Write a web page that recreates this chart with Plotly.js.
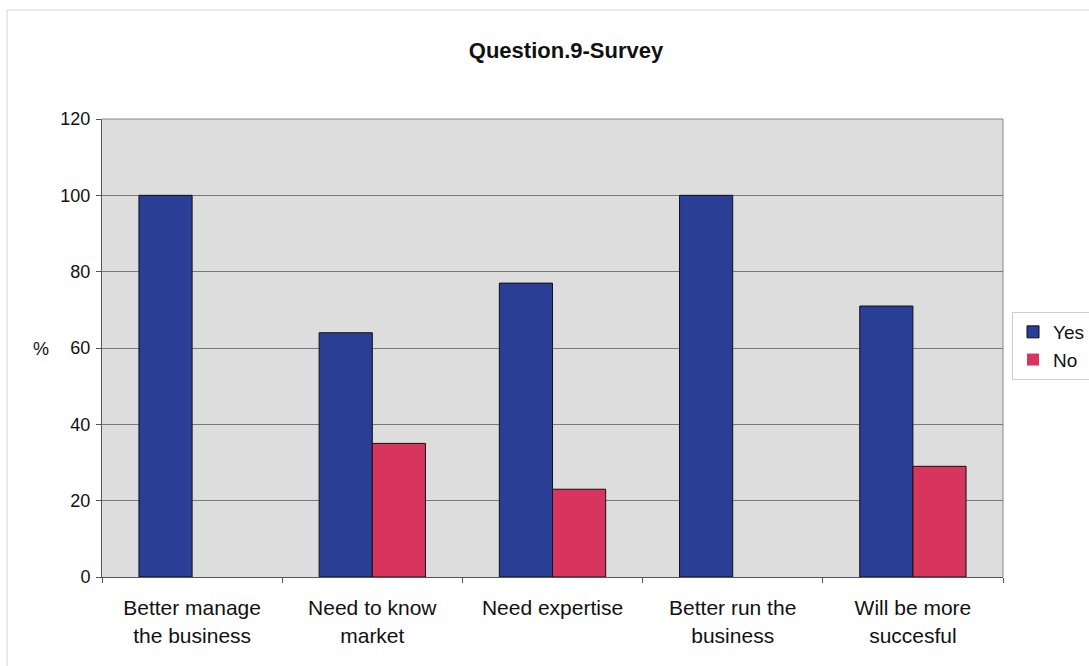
<!DOCTYPE html>
<html>
<head>
<meta charset="utf-8">
<script src="https://cdn.plot.ly/plotly-3.0.1.min.js"></script>
<style>
  html, body { margin: 0; padding: 0; background: #ffffff; }
  #chart { width: 1089px; height: 666px; }
</style>
</head>
<body>
<div id="chart"></div>
<script>
const categories = [
  "Better manage<br>the business",
  "Need to know<br>market",
  "Need expertise",
  "Better run the<br>business",
  "Will be more<br>succesful"
];
const yesValues = [100, 64, 77, 100, 71];
const noValues = [0, 35, 23, 0, 29];
const seriesNames = ["Yes", "No"];
const yTicks = [0, 20, 40, 60, 80, 100, 120];

const W = 1089, H = 666;
const margin = { l: 102, r: 86, t: 119, b: 89, autoexpand: false };
const pw = W - margin.l - margin.r;
const ph = H - margin.t - margin.b;
const px = x => (x - margin.l) / pw;
const py = y => (H - margin.b - y) / ph;

const font = "Liberation Sans, Arial, sans-serif";
const outline = vals => vals.map(v => (v === 0 ? 0 : 1));

const traces = [
  {
    type: "bar", name: seriesNames[0], x: categories, y: yesValues,
    marker: { color: "#2b3e96", line: { color: "#111111", width: outline(yesValues) } },
    hoverinfo: "skip"
  },
  {
    type: "bar", name: seriesNames[1], x: categories, y: noValues,
    marker: { color: "#d8355e", line: { color: "#111111", width: outline(noValues) } },
    hoverinfo: "skip"
  }
];

const layout = {
  width: W, height: H,
  margin: margin,
  paper_bgcolor: "#ffffff",
  plot_bgcolor: "#dddddd",
  font: { family: font, size: 21, color: "#111111" },
  title: {
    text: "<b>Question.9-Survey</b>",
    font: { family: font, size: 22, color: "#111111" },
    x: px(566), xanchor: "center", xref: "paper",
    y: 1 - 50 / H, yanchor: "middle"
  },
  barmode: "group",
  bargap: 0.41,
  bargroupgap: 0,
  showlegend: true,
  legend: {
    x: px(1012), xanchor: "left",
    y: py(312), yanchor: "top",
    bgcolor: "#ffffff",
    bordercolor: "#cfcfcf", borderwidth: 1,
    font: { family: font, size: 19, color: "#111111" },
    itemwidth: 30,
    tracegroupgap: 0
  },
  xaxis: {
    type: "category",
    showgrid: false,
    showline: true, linecolor: "#555555", linewidth: 1,
    ticks: "outside", tickson: "boundaries", ticklen: 5, tickcolor: "#555555",
    ticklabelstandoff: 12,
    tickfont: { family: font, size: 21, color: "#111111" },
    fixedrange: true
  },
  yaxis: {
    range: [0, 120],
    tickvals: yTicks,
    ticktext: yTicks.map(String),
    showgrid: true, gridcolor: "#7a7a7a", gridwidth: 1,
    showline: true, linecolor: "#555555", linewidth: 1,
    ticks: "outside", ticklen: 5, tickcolor: "#555555",
    ticklabelstandoff: 2,
    tickfont: { family: font, size: 18, color: "#111111" },
    zeroline: false,
    fixedrange: true
  },
  annotations: [
    {
      text: "%", xref: "paper", yref: "paper",
      x: px(41), y: py(349), xanchor: "center", yanchor: "middle",
      showarrow: false, font: { family: font, size: 18, color: "#111111" }
    }
  ],
  shapes: [
    {
      type: "line", xref: "paper", yref: "paper",
      x0: 1, x1: 1, y0: 0, y1: 1,
      line: { color: "#888888", width: 1 }
    },
    {
      type: "line", xref: "paper", yref: "paper",
      x0: 0, x1: 1, y0: 1, y1: 1,
      line: { color: "#888888", width: 1 }
    },
    {
      type: "rect", xref: "paper", yref: "paper",
      x0: px(7), x1: px(1095), y0: py(10), y1: py(672),
      line: { color: "#d4d4d4", width: 1 }
    }
  ]
};

Plotly.newPlot("chart", traces, layout, { displayModeBar: false, staticPlot: true });
</script>
</body>
</html>
